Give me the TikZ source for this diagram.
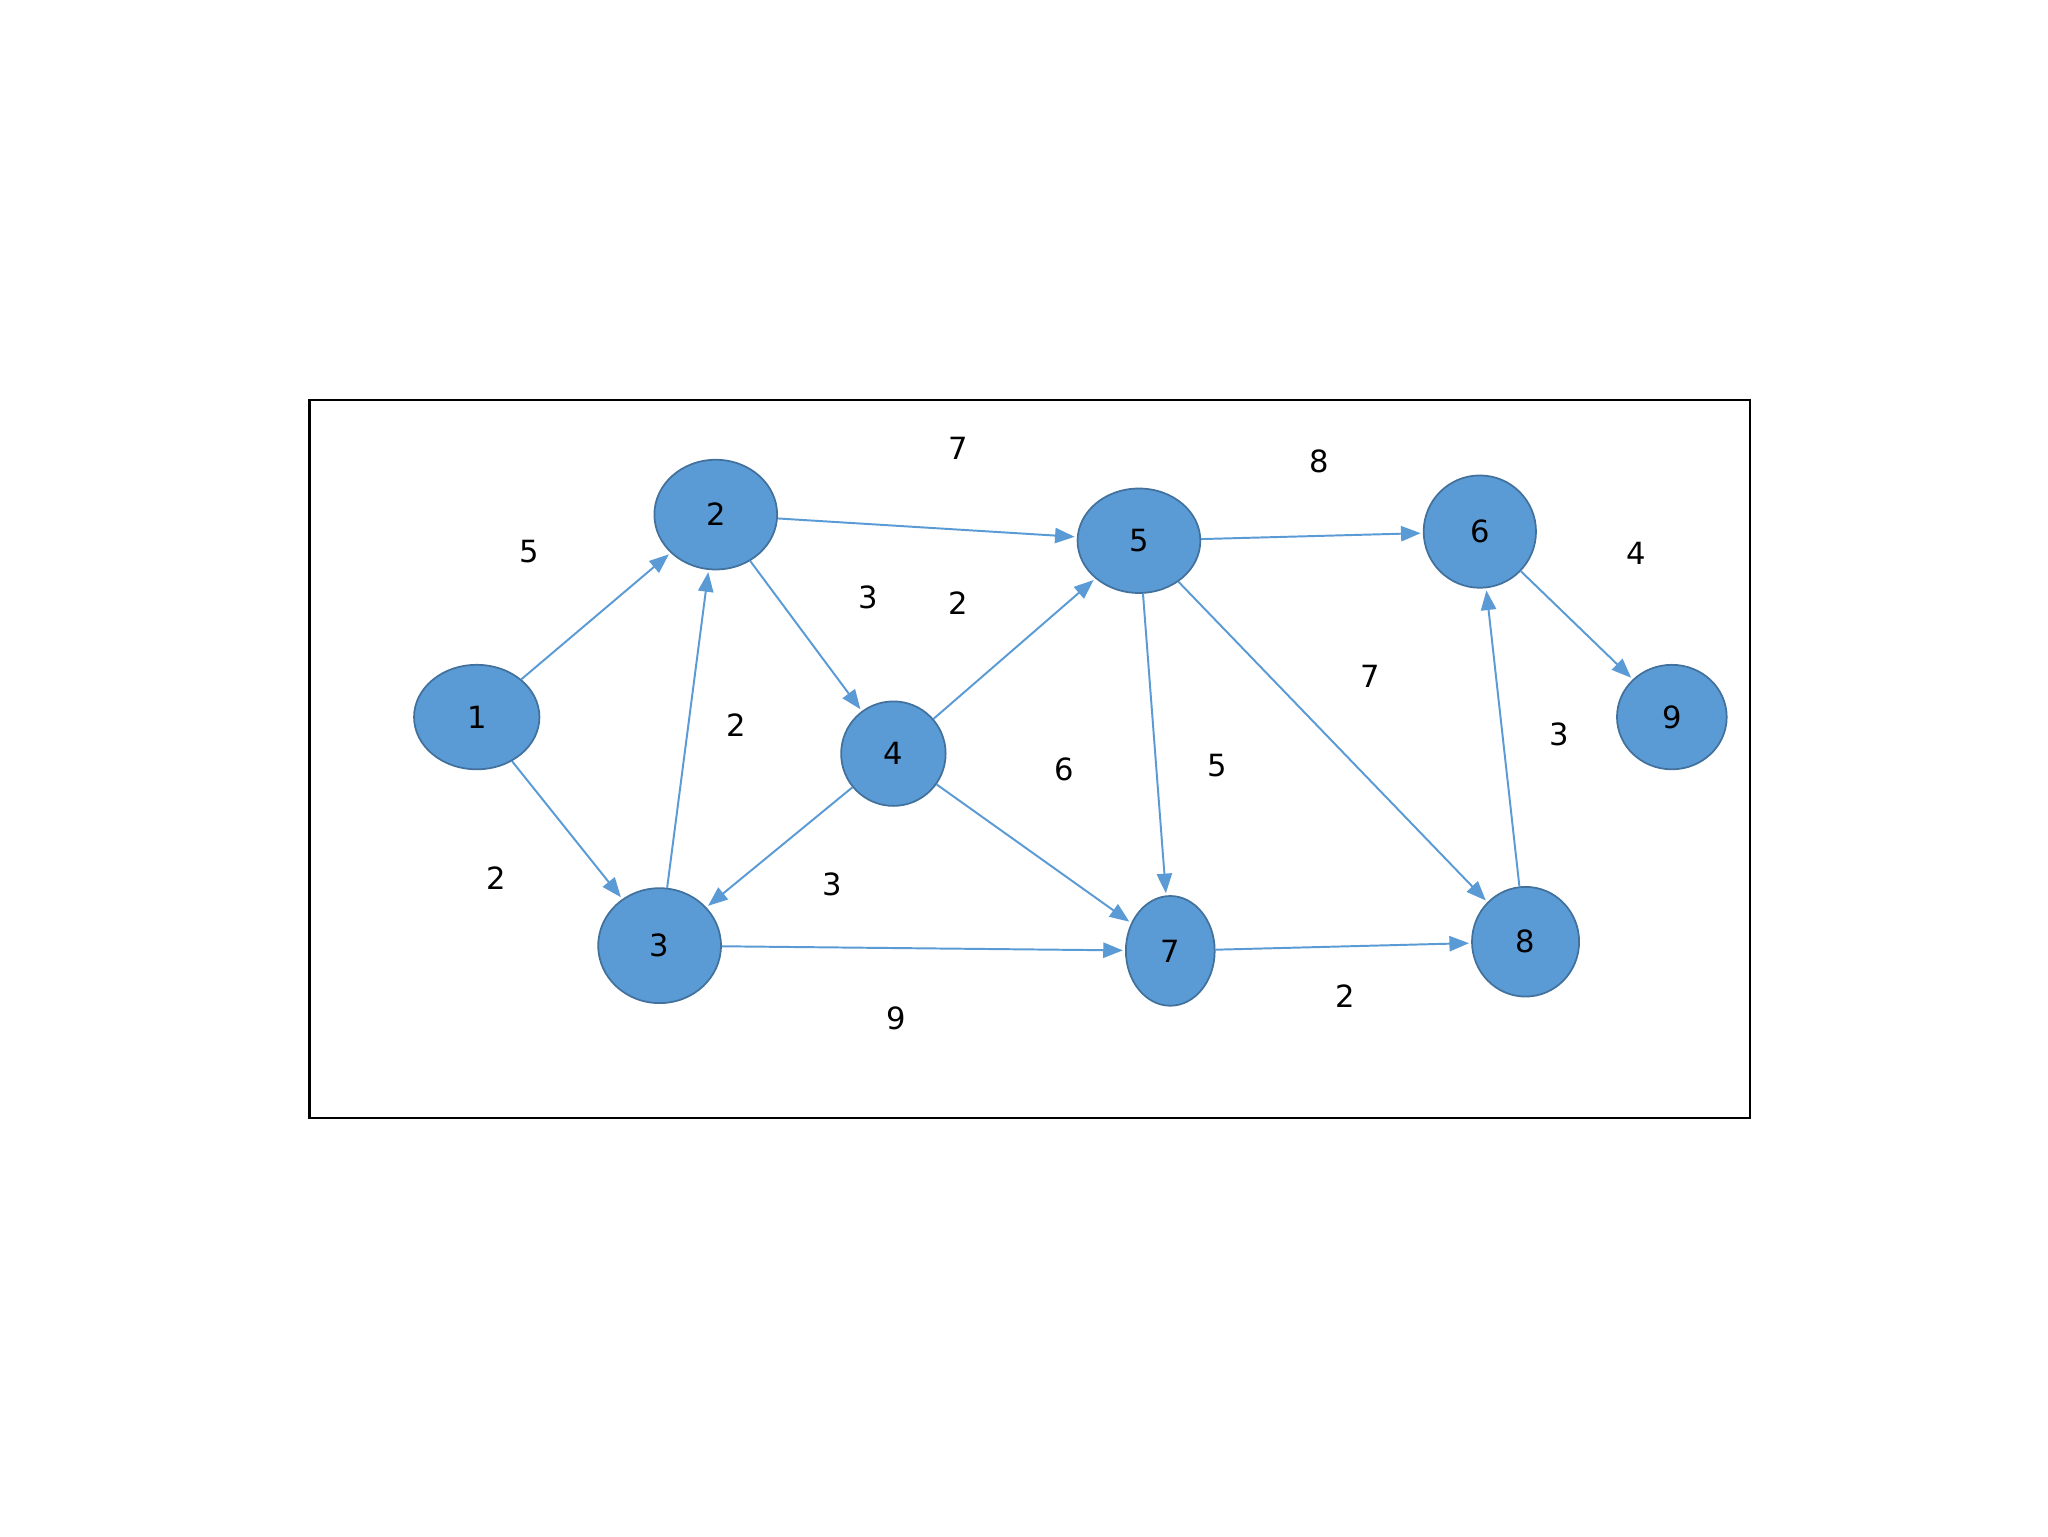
\documentclass[tikz,border=0pt]{standalone}
\usepackage{fontspec}
\setmainfont{DejaVu Sans}
\usetikzlibrary{shapes.geometric,arrows.meta}
\definecolor{nf}{HTML}{5B9BD5}
\definecolor{nb}{HTML}{41719C}
\begin{document}
\begin{tikzpicture}[x=0.3mm,y=-0.3mm,
  n/.style={ellipse,fill=nf,draw=nb,line width=0.4mm,inner sep=0pt,font=\fontsize{20}{24}\selectfont},
  e/.style={draw=nf,line width=0.45mm,-{Triangle[length=4.5mm,width=3.5mm]},shorten >=0.5mm},
  l/.style={font=\fontsize{20}{24}\selectfont}]
\useasboundingbox (0,0) rectangle (1568,1176);
\fill[white] (0,0) rectangle (1568,1176);
\draw[line width=0.5mm] (237,306) rectangle (1340,856);
\node[n,minimum width=96\pgflinewidth,minimum width=28.8mm,minimum height=24mm] (1) at (365,549) {1};
\node[n,minimum width=28.2mm,minimum height=25.2mm] (2) at (548,394) {2};
\node[n,minimum width=28.2mm,minimum height=26.4mm] (3) at (505,724) {3};
\node[n,minimum width=24mm,minimum height=24mm] (4) at (684,577) {4};
\node[n,minimum width=28.2mm,minimum height=24mm] (5) at (872,414) {5};
\node[n,minimum width=25.8mm,minimum height=25.8mm] (6) at (1133,407) {6};
\node[n,minimum width=20.4mm,minimum height=25.2mm] (7) at (896,728) {7};
\node[n,minimum width=24.6mm,minimum height=25.2mm] (8) at (1168,721) {8};
\node[n,minimum width=25.2mm,minimum height=24mm] (9) at (1280,549) {9};
\draw[e] (1) -- (2); \draw[e] (1) -- (3); \draw[e] (3) -- (2);
\draw[e] (2) -- (5); \draw[e] (2) -- (4); \draw[e] (4) -- (5);
\draw[e] (4) -- (3); \draw[e] (4) -- (7); \draw[e] (3) -- (7);
\draw[e] (5) -- (6); \draw[e] (5) -- (7); \draw[e] (5) -- (8);
\draw[e] (6) -- (9); \draw[e] (8) -- (6); \draw[e] (7) -- (8);
\node[l] (a) at (405,422) {5}; \node[l] (b) at (380,672) {2};
\node[l] (c) at (734,343) {7}; \node[l] (d) at (665,457) {3};
\node[l] (f) at (734,462) {2}; \node[l] (g) at (564,555) {2};
\node[l] (h) at (815,589) {6}; \node[l] (i) at (637,677) {3};
\node[l] (j) at (686,780) {9}; \node[l] (k) at (932,586) {5};
\node[l] (m) at (1010,353) {8}; \node[l] (o) at (1049,518) {7};
\node[l] (p) at (1253,424) {4}; \node[l] (q) at (1194,562) {3};
\node[l] (r) at (1030,763) {2};
\end{tikzpicture}
\end{document}
